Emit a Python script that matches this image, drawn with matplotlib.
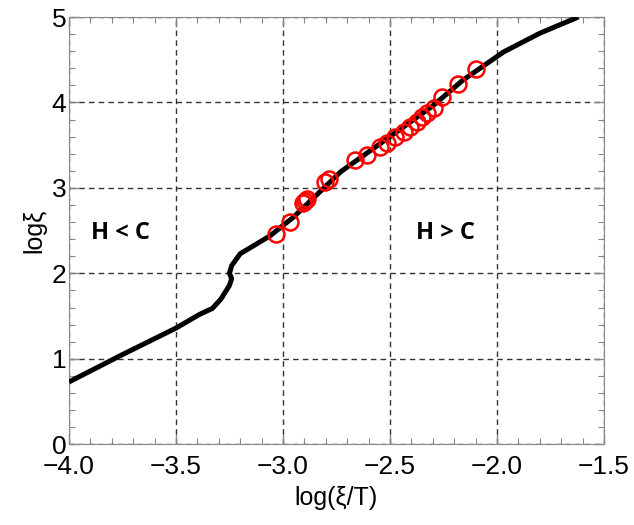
import matplotlib.pyplot as plt
from matplotlib.ticker import MultipleLocator

plt.rcParams['font.family'] = ['Liberation Sans', 'DejaVu Sans']

# black curve: log(xi/T) vs log(xi)
curve_x = [-4.0, -3.75, -3.5, -3.39, -3.33, -3.29, -3.25, -3.24, -3.25, -3.24,
           -3.20, -3.12, -3.06, -2.95, -2.73, -2.50, -2.30, -2.16, -1.97, -1.80, -1.62]
curve_y = [0.73, 1.05, 1.36, 1.52, 1.59, 1.70, 1.86, 1.94, 2.00, 2.09,
           2.23, 2.35, 2.44, 2.66, 3.19, 3.60, 3.96, 4.26, 4.59, 4.81, 5.0]

# red open circles
pts_x = [-3.032, -2.966, -2.907, -2.896, -2.888, -2.803, -2.787, -2.662, -2.608,
         -2.549, -2.514, -2.475, -2.436, -2.405, -2.374, -2.350, -2.327, -2.296,
         -2.257, -2.183, -2.096]
pts_y = [2.460, 2.604, 2.819, 2.846, 2.865, 3.071, 3.099, 3.325, 3.384,
         3.481, 3.520, 3.598, 3.656, 3.715, 3.773, 3.832, 3.878, 3.930,
         4.065, 4.220, 4.389]

fig = plt.figure(figsize=(6.34, 5.25), dpi=100)
ax = fig.add_axes([0.1088, 0.1537, 0.8439, 0.8139])

ax.plot(curve_x, curve_y, color='black', lw=3.6, solid_capstyle='butt', zorder=3)
ax.plot(pts_x, pts_y, 'o', mfc='none', mec='red', ms=11.5, mew=1.8, zorder=4)

ax.set_xlim(-4.0, -1.5)
ax.set_ylim(0, 5)
ax.xaxis.set_minor_locator(MultipleLocator(0.1))
ax.yaxis.set_major_locator(MultipleLocator(1))
ax.yaxis.set_minor_locator(MultipleLocator(0.2))
ax.set_xticks([-4.0, -3.5, -3.0, -2.5, -2.0, -1.5])
ax.set_xticklabels(['\u22124.0', '\u22123.5', '\u22123.0', '\u22122.5', '\u22122.0', '\u22121.5'])

ax.grid(which='major', ls=(0, (4, 3)), color='#333333', lw=1.0)
ax.tick_params(which='both', direction='in', colors='#888888', labelcolor='black',
               labelsize=19, top=True, right=True)
ax.tick_params(which='major', length=7, width=1)
ax.tick_params(which='minor', length=4, width=0.8)
ax.tick_params(axis='x', pad=8)
ax.tick_params(axis='y', pad=2)
for lab in ax.get_yticklabels():
    lab.set_verticalalignment('center_baseline')
for s in ax.spines.values():
    s.set_color('#888888')

ax.set_xlabel('log(\u03be/T)', fontsize=18, labelpad=5)
ax.set_ylabel('log\u03be', fontsize=18, labelpad=4)

ax.text(-3.76, 2.47, 'H < C', fontsize=17, fontweight='bold', ha='center', va='center',
        family=['Open Sans', 'DejaVu Sans'])
ax.text(-2.24, 2.47, 'H > C', fontsize=17, fontweight='bold', ha='center', va='center',
        family=['Open Sans', 'DejaVu Sans'])

fig.savefig('out.png', dpi=100)
